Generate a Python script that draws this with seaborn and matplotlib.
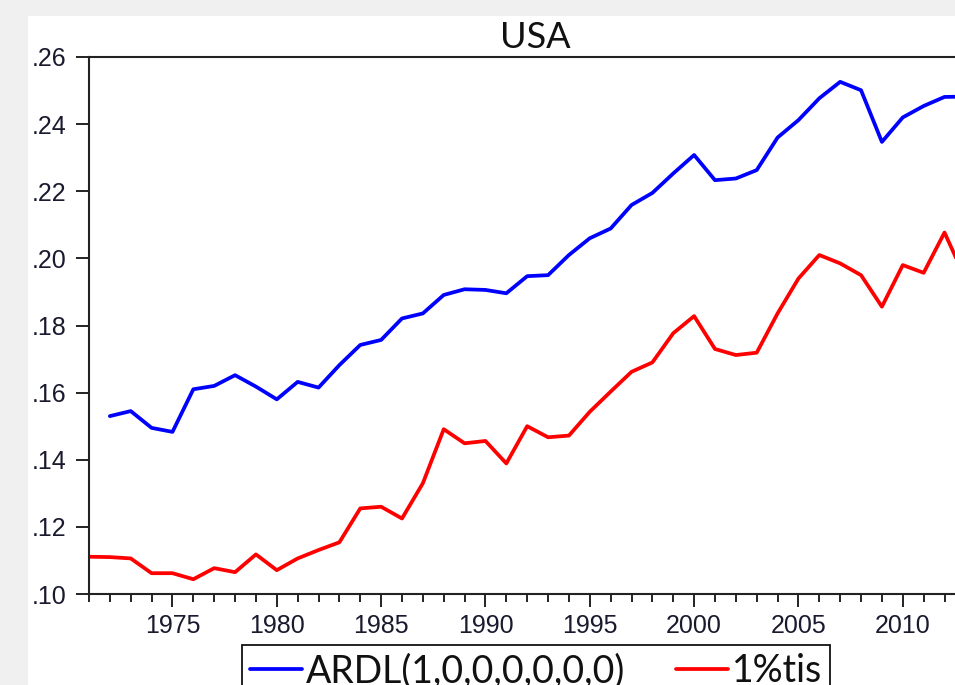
import numpy as np
import pandas as pd
import matplotlib
matplotlib.use("Agg")
import matplotlib.pyplot as plt
import matplotlib.ticker as mticker
from matplotlib.patches import Rectangle
import seaborn as sns

# ---- data ----
years_ardl = list(range(1972, 2014))
ardl = [0.1530, 0.1545, 0.1495, 0.1483, 0.1610, 0.1620, 0.1652, 0.1618, 0.1580,
        0.1632, 0.1615, 0.1682, 0.1742, 0.1757, 0.1821, 0.1836, 0.1891, 0.1908,
        0.1906, 0.1896, 0.1947, 0.1950, 0.2010, 0.2060, 0.2089, 0.2159, 0.2195,
        0.2253, 0.2308, 0.2233, 0.2238, 0.2263, 0.2360, 0.2412, 0.2477, 0.2526,
        0.2501, 0.2347, 0.2420, 0.2454, 0.2481, 0.2482]
years_tis = list(range(1971, 2014))
tis = [0.1111, 0.1110, 0.1106, 0.1062, 0.1062, 0.1044, 0.1077, 0.1065, 0.1118,
       0.1071, 0.1106, 0.1131, 0.1154, 0.1255, 0.1260, 0.1225, 0.1330, 0.1491,
       0.1449, 0.1456, 0.1389, 0.1500, 0.1467, 0.1472, 0.1543, 0.1603, 0.1662,
       0.1690, 0.1777, 0.1828, 0.1730, 0.1712, 0.1719, 0.1836, 0.1940, 0.2010,
       0.1985, 0.1950, 0.1856, 0.1980, 0.1957, 0.2077, 0.1940]
series_names = ["ARDL(1,0,0,0,0,0,0)", "1%tis"]
series_colors = ["#0000ff", "#ff0000"]
title = "USA"
y_ticks = [0.10, 0.12, 0.14, 0.16, 0.18, 0.20, 0.22, 0.24, 0.26]
x_major = [1975, 1980, 1985, 1990, 1995, 2000, 2005, 2010]

df = pd.concat([
    pd.DataFrame({"year": years_ardl, "value": ardl, "series": series_names[0]}),
    pd.DataFrame({"year": years_tis, "value": tis, "series": series_names[1]}),
], ignore_index=True)

sns.set_theme(style="white")
plt.rcParams["font.family"] = ["Liberation Sans", "DejaVu Sans"]

W, H = 955, 685
fig = plt.figure(figsize=(W / 100, H / 100), dpi=100, facecolor="#f0f0f0")
# white panel
panel = Rectangle((28 / W, 0), 1 - 28 / W, 1 - 16 / H,
                  transform=fig.transFigure, facecolor="white",
                  edgecolor="none", zorder=-10)
fig.patches.append(panel)

ax_left, ax_right = 89, 981
ax_top, ax_bottom = 57, 594
ax = fig.add_axes([ax_left / W, 1 - ax_bottom / H,
                   (ax_right - ax_left) / W, (ax_bottom - ax_top) / H])
ax.set_zorder(5)
ax.set_facecolor("white")

sns.lineplot(data=df, x="year", y="value", hue="series",
             palette=dict(zip(series_names, series_colors)),
             linewidth=2.7, ax=ax, legend=True)

ax.set_xlim(1971, 1971 + (ax_right - ax_left) / 20.866)
ax.set_ylim(0.10, 0.26)
ax.set_xlabel("")
ax.set_ylabel("")

ax.set_yticks(y_ticks)
ax.yaxis.set_major_formatter(mticker.FuncFormatter(lambda v, p: f"{v:.2f}".lstrip("0")))
ax.set_xticks(x_major)
ax.xaxis.set_minor_locator(mticker.MultipleLocator(1))
ax.tick_params(axis="y", which="major", direction="out", length=9.3, width=1.4,
               color="#222222", labelsize=18, pad=7, labelcolor="#1a1a2e", left=True)
ax.tick_params(axis="x", which="major", direction="out", length=9.5, width=1.4,
               color="#222222", labelsize=18, pad=5, labelcolor="#1a1a2e", bottom=True)
ax.tick_params(axis="x", which="minor", direction="out", length=5.7, width=1.4,
               color="#222222", bottom=True)

for side in ["left", "top", "bottom", "right"]:
    ax.spines[side].set_color("#222222")
    ax.spines[side].set_linewidth(1.5)

fig.text(535 / W, 1 - 48 / H, title, ha="center", va="baseline",
         fontsize=26, family=["Lato", "DejaVu Sans"], color="#111111")

handles, labels = ax.get_legend_handles_labels()
ax.legend(handles, labels, loc="upper center",
          bbox_to_anchor=(536 / W, 1 - 645 / H), bbox_transform=fig.transFigure,
          ncol=2, frameon=True, fancybox=False, edgecolor="#111111",
          framealpha=1, borderpad=0.22, handlelength=1.39, handletextpad=0.1,
          columnspacing=1.36, borderaxespad=0,
          prop={"family": ["Lato", "DejaVu Sans"], "size": 27})
leg = ax.get_legend()
leg.get_frame().set_linewidth(1.3)
for t in leg.get_texts():
    t.set_color("#111111")
for l in leg.get_lines():
    l.set_linewidth(2.7)

fig.savefig("out.png", dpi=100, facecolor=fig.get_facecolor())
